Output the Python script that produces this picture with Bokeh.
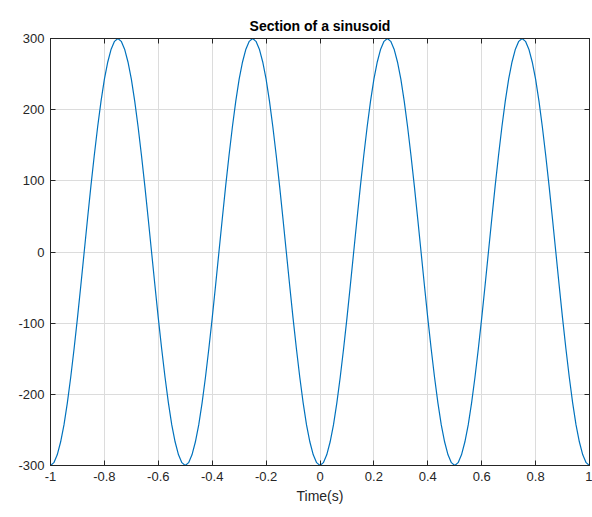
from bokeh.plotting import figure
from bokeh.models import ColumnDataSource, FixedTicker, LinearAxis, Range1d
from bokeh.embed import file_html
from bokeh.resources import INLINE

time_s = [round(-1 + 0.0125 * k, 4) for k in range(161)]
rise = [-300, -296, -285, -267, -243, -212, -176, -136, -93, -47,
        0, 47, 93, 136, 176, 212, 243, 267, 285, 296]
fall = [300, 296, 285, 267, 243, 212, 176, 136, 93, 47,
        0, -47, -93, -136, -176, -212, -243, -267, -285, -296]
amplitude = (rise + fall) * 4 + [-300]

x_ticks = [-1, -0.8, -0.6, -0.4, -0.2, 0, 0.2, 0.4, 0.6, 0.8, 1]
x_tick_labels = ["-1", "-0.8", "-0.6", "-0.4", "-0.2", "0", "0.2", "0.4", "0.6", "0.8", "1"]
y_ticks = [-300, -200, -100, 0, 100, 200, 300]
y_tick_labels = ["-300", "-200", "-100", "0", "100", "200", "300"]

FONT = "Liberation Sans"
AX = "#262626"

p = figure(width=592, height=517, output_backend="svg", toolbar_location=None,
           x_range=Range1d(-1, 1), y_range=Range1d(-300, 300),
           min_border_left=50, min_border_right=3, min_border_top=38, min_border_bottom=52,
           title="Section of a sinusoid")
p.title.align = "center"
p.title.text_font = FONT
p.title.text_font_size = "14px"
p.title.text_font_style = "bold"
p.title.text_color = "#000000"

src = ColumnDataSource(dict(t=time_s, y=amplitude))
p.line("t", "y", source=src, line_color="#0072BD", line_width=1.2)

p.xaxis.ticker = FixedTicker(ticks=x_ticks)
p.xaxis.major_label_overrides = {t: l for t, l in zip(x_ticks, x_tick_labels)}
p.yaxis.ticker = FixedTicker(ticks=y_ticks)
p.yaxis.major_label_overrides = {t: l for t, l in zip(y_ticks, y_tick_labels)}
p.xaxis.axis_label = "Time(s)"

for ax in [p.xaxis[0], p.yaxis[0]]:
    ax.axis_line_color = AX
    ax.major_tick_line_color = AX
    ax.major_tick_in = 5
    ax.major_tick_out = 0
    ax.minor_tick_line_color = None
    ax.major_label_text_font = FONT
    ax.major_label_text_font_size = "13px"
    ax.major_label_text_color = AX
    ax.axis_label_text_font = FONT
    ax.axis_label_text_font_size = "14px"
    ax.axis_label_text_font_style = "normal"
    ax.axis_label_text_color = AX
p.xaxis.major_label_standoff = 6
p.yaxis.major_label_standoff = 6
p.xaxis.axis_label_standoff = 4

for place, tick_vals in [("above", x_ticks), ("right", y_ticks)]:
    a = LinearAxis(ticker=FixedTicker(ticks=tick_vals))
    a.major_label_overrides = {t: "" for t in tick_vals}
    a.major_label_standoff = 0
    a.axis_line_color = AX
    a.major_tick_line_color = AX
    a.major_tick_in = 5
    a.major_tick_out = 0
    a.minor_tick_line_color = None
    p.add_layout(a, place)

p.outline_line_color = AX
p.xgrid.grid_line_color = "#dcdcdc"
p.ygrid.grid_line_color = "#dcdcdc"
p.xgrid.ticker = FixedTicker(ticks=x_ticks)
p.ygrid.ticker = FixedTicker(ticks=y_ticks)
p.background_fill_color = "white"
p.border_fill_color = "white"

open("out.html", "w").write(file_html(p, INLINE))
